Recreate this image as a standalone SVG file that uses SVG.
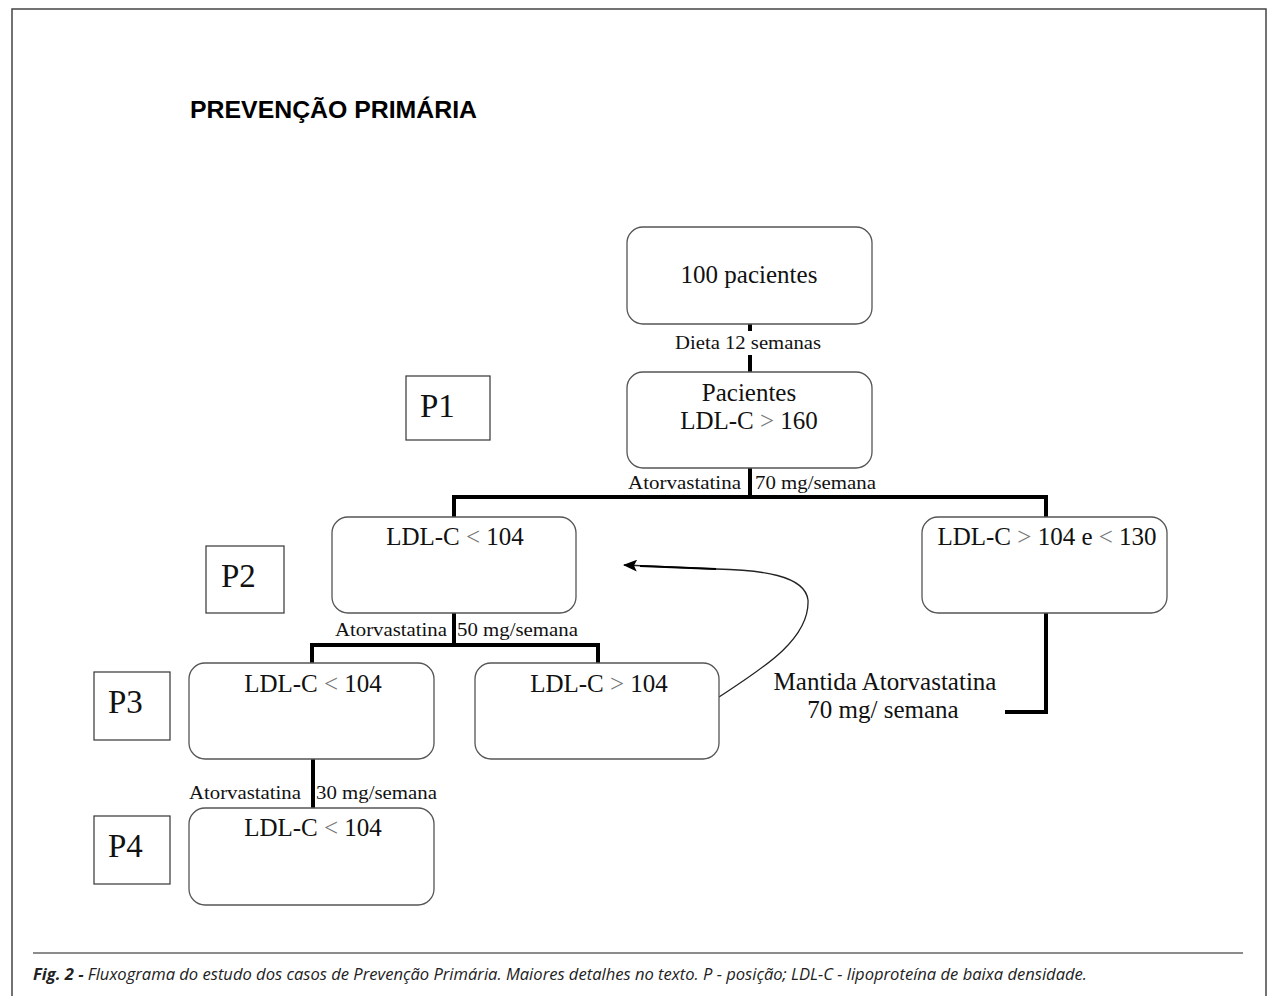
<svg xmlns="http://www.w3.org/2000/svg" width="1272" height="996" viewBox="0 0 1272 996">
<style>
.node{fill:#fff;stroke:#555;stroke-width:1.3}
.pbox{fill:#fff;stroke:#444;stroke-width:1.3}
.t{font-family:"Liberation Serif",serif;font-size:25px;fill:#111;text-anchor:middle}
.lbl{font-family:"Liberation Serif",serif;font-size:18px;fill:#111}
.p{font-family:"Liberation Serif",serif;font-size:33px;fill:#111}
.g{fill:#777}
.conn{fill:none;stroke:#000;stroke-width:4}
</style>
<defs>
<marker id="arr" markerWidth="14" markerHeight="12" refX="13" refY="6" orient="auto" markerUnits="userSpaceOnUse">
<path d="M0,0 L14,6 L0,12 L3,6 Z" fill="#000"/>
</marker>
</defs>
<rect x="0" y="0" width="1272" height="996" fill="#fff"/>
<path d="M12,1000 V9 H1266 V1000" fill="none" stroke="#444" stroke-width="1.5"/>
<line x1="33" y1="953" x2="1243" y2="953" stroke="#666" stroke-width="1.5"/>
<text x="190" y="118" font-family="Liberation Sans,Arial,sans-serif" font-weight="bold" font-size="24" fill="#000" textLength="287" lengthAdjust="spacingAndGlyphs">PREVENÇÃO PRIMÁRIA</text>
<text x="33" y="980" font-family="Open Sans,Liberation Sans,sans-serif" font-style="italic" font-size="16" fill="#222" textLength="1054" lengthAdjust="spacingAndGlyphs"><tspan font-weight="bold">Fig. 2 -</tspan> Fluxograma do estudo dos casos de Prevenção Primária. Maiores detalhes no texto. P - posição; LDL-C - lipoproteína de baixa densidade.</text>

<g id="connectors">
<line class="conn" x1="750" y1="324" x2="750" y2="372"/>
<rect x="670" y="331" width="156" height="24" fill="#fff"/>
<path class="conn" d="M750,468 V499 M454,519 V497 H1046 V519"/>
<path class="conn" d="M454,613 V645 M312,665 V645 H598 V665"/>
<line class="conn" x1="313" y1="759" x2="313" y2="808"/>
<path class="conn" d="M1046,613 V712 H1005"/>
<path d="M719,697 C760,670 810,640 808,600 C805,575 760,570 716,569 L624,565" fill="none" stroke="#222" stroke-width="1.3" marker-end="url(#arr)"/>
<line x1="716" y1="569" x2="640" y2="566" stroke="#000" stroke-width="2.2"/>
<text class="lbl" x="748" y="349" text-anchor="middle" textLength="146" lengthAdjust="spacingAndGlyphs">Dieta 12 semanas</text>
<text class="lbl" x="628" y="489" textLength="113" lengthAdjust="spacingAndGlyphs">Atorvastatina</text>
<text class="lbl" x="755" y="489" textLength="121" lengthAdjust="spacingAndGlyphs">70 mg/semana</text>
<text class="lbl" x="335" y="636" textLength="112" lengthAdjust="spacingAndGlyphs">Atorvastatina</text>
<text class="lbl" x="457" y="636" textLength="121" lengthAdjust="spacingAndGlyphs">50 mg/semana</text>
<text class="lbl" x="189" y="799" textLength="112" lengthAdjust="spacingAndGlyphs">Atorvastatina</text>
<text class="lbl" x="316" y="799" textLength="121" lengthAdjust="spacingAndGlyphs">30 mg/semana</text>
<text class="t" x="885" y="690" font-size="24">Mantida Atorvastatina</text>
<text class="t" x="883" y="718" font-size="24">70 mg/ semana</text>
</g>

<g id="n100">
<rect class="node" x="627" y="227" width="245" height="97" rx="16"/>
<text class="t" x="749" y="283">100 pacientes</text>
</g>
<g id="nPac">
<rect class="node" x="627" y="372" width="245" height="96" rx="16"/>
<text class="t" x="749" y="401">Pacientes</text>
<text class="t" x="749" y="429">LDL-C <tspan class="g">&gt;</tspan> 160</text>
</g>
<g id="nP2">
<rect class="node" x="332" y="517" width="244" height="96" rx="16"/>
<text class="t" x="455" y="545">LDL-C <tspan class="g">&lt;</tspan> 104</text>
</g>
<g id="nP2b">
<rect class="node" x="922" y="517" width="245" height="96" rx="16"/>
<text class="t" x="1047" y="545">LDL-C <tspan class="g">&gt;</tspan> 104 e <tspan class="g">&lt;</tspan> 130</text>
</g>
<g id="nP3a">
<rect class="node" x="189" y="663" width="245" height="96" rx="16"/>
<text class="t" x="313" y="692">LDL-C <tspan class="g">&lt;</tspan> 104</text>
</g>
<g id="nP3b">
<rect class="node" x="475" y="663" width="244" height="96" rx="16"/>
<text class="t" x="599" y="692">LDL-C <tspan class="g">&gt;</tspan> 104</text>
</g>
<g id="nP4">
<rect class="node" x="189" y="808" width="245" height="97" rx="16"/>
<text class="t" x="313" y="836">LDL-C <tspan class="g">&lt;</tspan> 104</text>
</g>

<g id="P1"><rect class="pbox" x="406" y="376" width="84" height="64"/><text class="p" x="420" y="417">P1</text></g>
<g id="P2"><rect class="pbox" x="206" y="546" width="78" height="67"/><text class="p" x="221" y="587">P2</text></g>
<g id="P3"><rect class="pbox" x="94" y="672" width="76" height="68"/><text class="p" x="108" y="713">P3</text></g>
<g id="P4"><rect class="pbox" x="94" y="816" width="76" height="68"/><text class="p" x="108" y="857">P4</text></g>
</svg>
